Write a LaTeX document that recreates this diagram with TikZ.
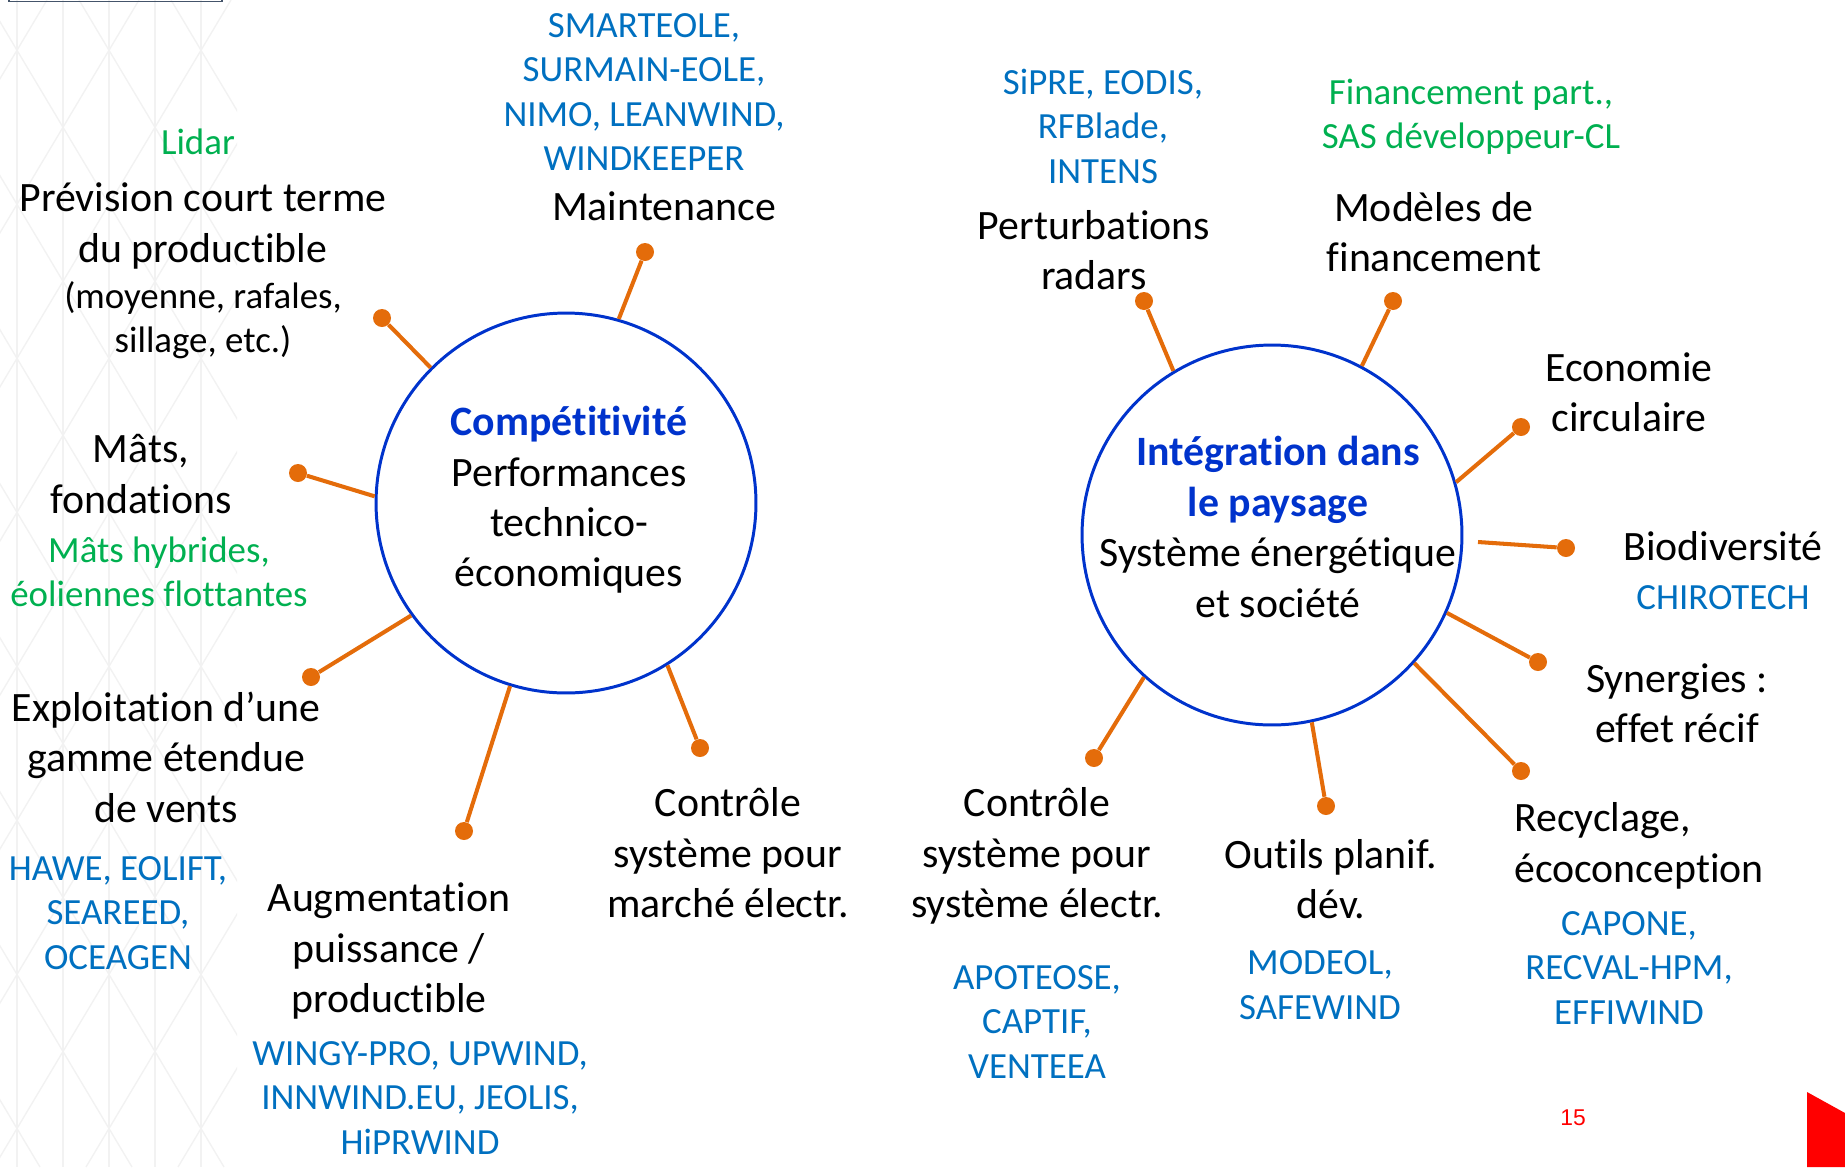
\documentclass[tikz,border=0pt]{standalone}
\usepackage{fontspec}
\setmainfont{Carlito}[Ligatures={NoCommon,NoContextual},Contextuals=NoAlternate]
\newfontfamily\pagenumfont{Liberation Sans}
\definecolor{hubBlue}{RGB}{0,51,204}
\definecolor{projBlue}{RGB}{0,112,192}
\definecolor{noteGreen}{RGB}{0,176,80}
\definecolor{spokeOrange}{RGB}{228,108,10}
\definecolor{frameGrey}{RGB}{68,84,106}
\tikzset{hub/.style={circle,draw=hubBlue,line width=1.7pt,minimum size=7.6cm,inner sep=0pt},
		knob/.style={circle,fill=spokeOrange,inner sep=0pt,minimum size=0.36cm},
		spoke/.style={-,draw=spokeOrange,line width=2.3pt},
		bigTxt/.style={align=center,inner sep=0pt,font=\fontsize{23.8}{28.7}\selectfont},
		projTxt/.style={align=center,inner sep=0pt,text=projBlue,font=\fontsize{21}{25.3}\selectfont},
		greenTxt/.style={projTxt,text=noteGreen},
		smallTxt/.style={projTxt,text=black},
		bgLine/.style={draw=black!5,line width=0.8pt}}

\begin{document}
\begin{tikzpicture}[x=0.02cm,y=-0.02cm]
	\useasboundingbox (0,0) rectangle (1845,1167);
	%background lattice
	\begin{scope}
		\clip (0,0) rectangle (237,1167);
		\foreach \vx in {17,63,...,201} \draw[bgLine] (\vx,0) -- (\vx,1167);
		\foreach \k in {-8,...,3} \draw[bgLine] ({17+92*\k-30},0) -- ({17+92*\k+667},1167);
		\foreach \k in {0,...,10} \draw[bgLine] ({17+92*\k+30},0) -- ({17+92*\k-667},1167);
	\end{scope}
	\draw[frameGrey,line width=1pt] (9,-5) -- (9,1.5) -- (222,1.5) -- (222,-5);

	%hubs
	\node at (566,503) [hub] (comp){};
	\node at (569,500) [bigTxt] (compTxt){{\bfseries\color{hubBlue}Compétitivité}\\Performances\\technico-\\économiques};
	\node at (1272,535) [hub] (integ){};
	\node at (1278,527) [bigTxt] (integTxt){{\bfseries\color{hubBlue}Intégration dans}\\{\bfseries\color{hubBlue}le paysage}\\Système énergétique\\et société};

	%knobs
	\node at (382,318) [knob] (dPrev){};
	\node at (645,252) [knob] (dMaint){};
	\node at (298,473) [knob] (dMats){};
	\node at (311,677) [knob] (dExpl){};
	\node at (464,831) [knob] (dAugm){};
	\node at (700,748) [knob] (dCtrlM){};
	\node at (1144,301) [knob] (dPert){};
	\node at (1393,301) [knob] (dFin){};
	\node at (1521,427) [knob] (dEco){};
	\node at (1566,548) [knob] (dBio){};
	\node at (1538,662) [knob] (dSyn){};
	\node at (1521,771) [knob] (dRecy){};
	\node at (1326,806) [knob] (dOut){};
	\node at (1094,758) [knob] (dCtrlS){};
	\coordinate (bioStart) at (1478,542);

	%left topics
	\node at (198,142) [greenTxt] (prevNote){Lidar};
	\node at (203,226) [bigTxt] (prev){Prévision court terme\\du productible};
	\node at (203,320) [smallTxt] (prevSub){(moyenne, rafales,\\sillage, etc.)};
	\node at (644,92) [projTxt] (maintProj){SMARTEOLE,\\SURMAIN-EOLE,\\NIMO, LEANWIND,\\WINDKEEPER};
	\node at (664,206) [bigTxt] (maint){Maintenance};
	\node at (141,474) [bigTxt] (mats){Mâts,\\fondations};
	\node at (159,572) [greenTxt] (matsNote){Mâts hybrides,\\éoliennes flottantes};
	\node at (166,757) [bigTxt] (expl){Exploitation d’une\\gamme étendue\\de vents};
	\node at (118,913) [projTxt] (explProj){HAWE, EOLIFT,\\SEAREED,\\OCEAGEN};
	\node at (389,951) [bigTxt] (augm){Augmentation\\puissance /\\productible};
	\node at (420,1098) [projTxt] (augmProj){WINGY-PRO, UPWIND,\\INNWIND.EU, JEOLIS,\\HiPRWIND};
	\node at (728,853) [bigTxt] (ctrlM){Contrôle\\système pour\\marché électr.};

	%right topics
	\node at (1103,126) [projTxt] (pertProj){SiPRE, EODIS,\\RFBlade,\\INTENS};
	\node at (1094,250) [bigTxt] (pert){Perturbations\\radars};
	\node at (1471,117) [greenTxt] (finNote){Financement part.,\\SAS développeur-CL};
	\node at (1434,232) [bigTxt] (fin){Modèles de\\financement};
	\node at (1629,392) [bigTxt] (eco){Economie\\circulaire};
	\node at (1723,546) [bigTxt] (bio){Biodiversité};
	\node at (1723,598) [projTxt] (bioProj){CHIROTECH};
	\node at (1677,703) [bigTxt] (syn){Synergies :\\effet récif};
	\node at (1514,846) [bigTxt,anchor=west,align=left] (recy){Recyclage,\\écoconception};
	\node at (1629,968) [projTxt] (recyProj){CAPONE,\\RECVAL-HPM,\\EFFIWIND};
	\node at (1331,879) [bigTxt] (outils){Outils planif.\\dév.};
	\node at (1320,985) [projTxt] (outilsProj){MODEOL,\\SAFEWIND};
	\node at (1037,856) [bigTxt] (ctrlS){Contrôle\\système pour\\système électr.};
	\node at (1037,1022) [projTxt] (ctrlSProj){APOTEOSE,\\CAPTIF,\\VENTEEA};

	\node at (1573,1118) [inner sep=0pt,text=red,font=\pagenumfont\fontsize{13}{15}\selectfont] (pageNum){15};
	\fill[red] (1807,1092) -- (1845,1113) -- (1845,1167) -- (1807,1167) -- cycle;

	%spokes
	\draw (comp.135) edge[spoke] (dPrev);
	\draw (comp.74) edge[spoke] (dMaint);
	\draw (comp.178) edge[spoke] (dMats);
	\draw (comp.216) edge[spoke] (dExpl);
	\draw (comp.253) edge[spoke] (dAugm);
	\draw (comp.302) edge[spoke] (dCtrlM);
	\draw (integ.121) edge[spoke] (dPert);
	\draw (integ.62) edge[spoke] (dFin);
	\draw (integ.16) edge[spoke] (dEco);
	\draw (bioStart) edge[spoke] (dBio);
	\draw (integ.336) edge[spoke] (dSyn);
	\draw (integ.318) edge[spoke] (dRecy);
	\draw (integ.282) edge[spoke] (dOut);
	\draw (integ.228) edge[spoke] (dCtrlS);
\end{tikzpicture}
\end{document}
